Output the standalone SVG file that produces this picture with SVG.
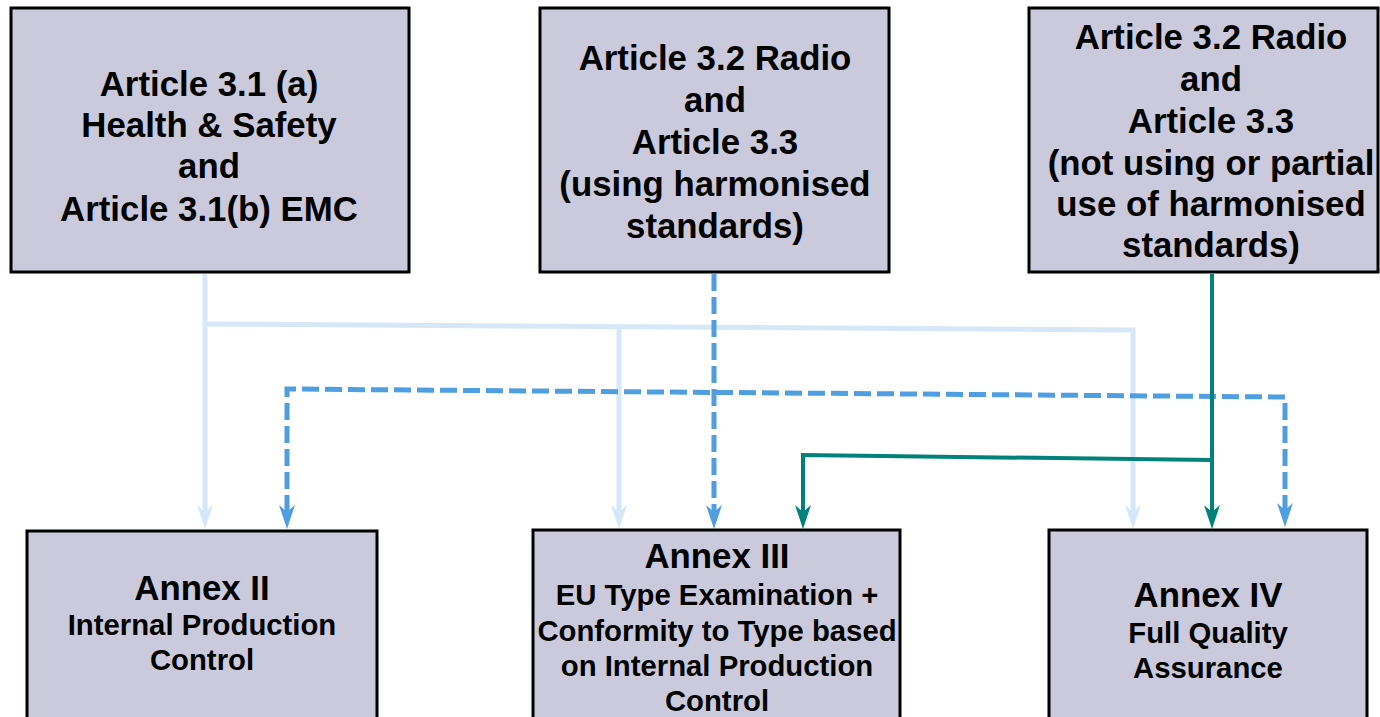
<svg xmlns="http://www.w3.org/2000/svg" width="1380" height="717" viewBox="0 0 1380 717">
<defs>
<style>
.box{fill:#cacadc;stroke:#000;stroke-width:3}
.t{font-family:"Liberation Sans",Arial,sans-serif;font-weight:bold;text-anchor:middle;fill:#000}
.big{font-size:34.8px}
.sub{font-size:29.3px}
.lb{fill:none;stroke:#d6e8f7;stroke-width:5}
.db{fill:none;stroke:#4f9fe0;stroke-width:5;stroke-dasharray:17 6}
.tl{fill:none;stroke:#00827b;stroke-width:4}
</style>
<marker id="aL" markerUnits="userSpaceOnUse" viewBox="0 -10 26 20" markerWidth="26" markerHeight="20" refX="7" refY="0" orient="auto"><path d="M0,-8 L24,0 L0,8 L7,0 Z" fill="#d6e8f7"/></marker>
<marker id="aD" markerUnits="userSpaceOnUse" viewBox="0 -10 26 20" markerWidth="26" markerHeight="20" refX="7" refY="0" orient="auto-start-reverse"><path d="M0,-8 L24,0 L0,8 L7,0 Z" fill="#4f9fe0"/></marker>
<marker id="aT" markerUnits="userSpaceOnUse" viewBox="0 -10 26 20" markerWidth="26" markerHeight="20" refX="7" refY="0" orient="auto"><path d="M0,-8 L24,0 L0,8 L7,0 Z" fill="#00827b"/></marker>
</defs>
<rect width="1380" height="717" fill="#fff"/>
<g id="connectors">
<path class="lb" d="M205,274 L205,512" marker-end="url(#aL)"/>
<path class="lb" d="M205,324 L1133,330 L1133,512" marker-end="url(#aL)"/>
<path class="lb" d="M619,327 L619,512" marker-end="url(#aL)"/>
<path class="db" d="M714,274 L714,512" marker-end="url(#aD)"/>
<path class="db" d="M287,512 L287,389 L1285,397 L1285,510" marker-start="url(#aD)" marker-end="url(#aD)"/>
<path class="tl" d="M1212,274 L1212,512" marker-end="url(#aT)"/>
<path class="tl" d="M1212,460 L803,455 L803,512" marker-end="url(#aT)"/>
</g>
<g id="a31">
<rect class="box" x="11" y="8" width="398" height="264"/>
<text class="t big"><tspan x="209" y="96">Article 3.1 (a)</tspan><tspan x="209" y="137">Health &amp; Safety</tspan><tspan x="209" y="178">and</tspan><tspan x="209" y="221">Article 3.1(b) EMC</tspan></text>
</g>
<g id="a32h">
<rect class="box" x="540" y="8" width="349" height="264"/>
<text class="t big"><tspan x="715" y="70">Article 3.2 Radio</tspan><tspan x="715" y="112">and</tspan><tspan x="715" y="154">Article 3.3</tspan><tspan x="715" y="196">(using harmonised</tspan><tspan x="715" y="238">standards)</tspan></text>
</g>
<g id="a32n">
<rect class="box" x="1029" y="8" width="349" height="264"/>
<text class="t big"><tspan x="1211" y="49">Article 3.2 Radio</tspan><tspan x="1211" y="91">and</tspan><tspan x="1211" y="133">Article 3.3</tspan><tspan x="1211" y="175">(not using or partial</tspan><tspan x="1211" y="216">use of harmonised</tspan><tspan x="1211" y="257">standards)</tspan></text>
</g>
<g id="annex2">
<rect class="box" x="27" y="531" width="350" height="200"/>
<text class="t"><tspan class="big" x="202" y="600">Annex II</tspan><tspan class="sub" x="202" y="635">Internal Production</tspan><tspan class="sub" x="202" y="670">Control</tspan></text>
</g>
<g id="annex3">
<rect class="box" x="533" y="530" width="367" height="200"/>
<text class="t"><tspan class="big" x="717" y="568">Annex III</tspan><tspan class="sub" x="717" y="605">EU Type Examination +</tspan><tspan class="sub" x="717" y="641">Conformity to Type based</tspan><tspan class="sub" x="717" y="676">on Internal Production</tspan><tspan class="sub" x="717" y="711">Control</tspan></text>
</g>
<g id="annex4">
<rect class="box" x="1049" y="530" width="318" height="200"/>
<text class="t"><tspan class="big" x="1208" y="607">Annex IV</tspan><tspan class="sub" x="1208" y="643">Full Quality</tspan><tspan class="sub" x="1208" y="678">Assurance</tspan></text>
</g>
</svg>
